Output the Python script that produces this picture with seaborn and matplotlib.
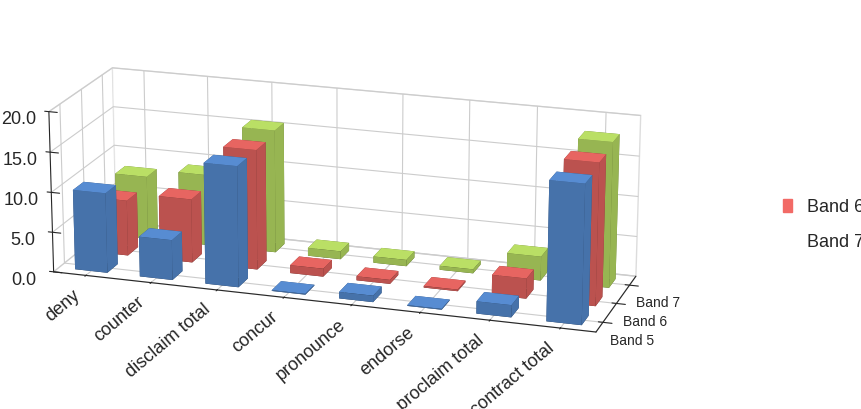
import matplotlib
matplotlib.use("Agg")
import matplotlib.pyplot as plt
import seaborn as sns
import numpy as np
from matplotlib.patches import Patch

sns.set_style("white")
plt.rcParams['font.family'] = ['Liberation Sans', 'DejaVu Sans']

categories = ["deny", "counter", "disclaim total", "concur", "pronounce", "endorse", "proclaim total", "contract total"]
bands = ["Band 5", "Band 6", "Band 7"]
band5 = [10.0, 5.0, 15.0, 0.1, 0.8, 0.1, 1.5, 17.0]
band6 = [7.0, 8.0, 15.0, 1.0, 0.5, 0.2, 2.5, 17.5]
band7 = [8.0, 9.0, 15.5, 1.0, 0.8, 0.5, 3.0, 18.0]
colors = ["#5b93dc", "#f26a66", "#c3ea6a"]

fig = plt.figure(figsize=(8.62, 4.09), dpi=100)
ax = fig.add_axes([-0.05, -0.22, 0.88, 1.45], projection='3d')
for j, vals in enumerate([band5, band6, band7]):
    xs = np.arange(len(categories))
    ax.bar3d(xs - 0.25, np.full(len(xs), j) - 0.25, np.zeros(len(xs)), 0.5, 0.5, vals,
             color=colors[j], shade=True, lightsource=matplotlib.colors.LightSource(azdeg=135, altdeg=60),
             edgecolor='none')
ax.set_xticks(np.arange(len(categories)))
ax.set_xticklabels(categories, rotation=40, ha='right', fontsize=13)
ax.set_yticks(range(3))
ax.set_yticklabels(bands, fontsize=10)
ax.set_zlim(0, 20)
ax.set_zticks([0, 5, 10, 15, 20])
ax.set_zticklabels([f"{v:.1f}" for v in [0, 5, 10, 15, 20]], fontsize=13)
ax.set_ylim(-0.5, 2.5)
ax.set_xlim(-0.5, 7.5)
ax.view_init(elev=18, azim=-72)
ax.set_box_aspect((4, 1.2, 1.2))
ax.zaxis._axinfo['juggled'] = (1, 2, 0)
for a in (ax.xaxis, ax.yaxis, ax.zaxis):
    a.pane.set_facecolor((1, 1, 1, 0))
    a.pane.set_edgecolor("#bbbbbb")
ax.grid(True)

handles = [Patch(color=colors[1], label="Band 6"), Patch(color="white", label="Band 7")]
fig.legend(handles=handles, loc='center left', bbox_to_anchor=(0.89, 0.45), frameon=False,
           fontsize=13, handlelength=0.5, labelspacing=1.0)
fig.savefig("out.png", dpi=100)
